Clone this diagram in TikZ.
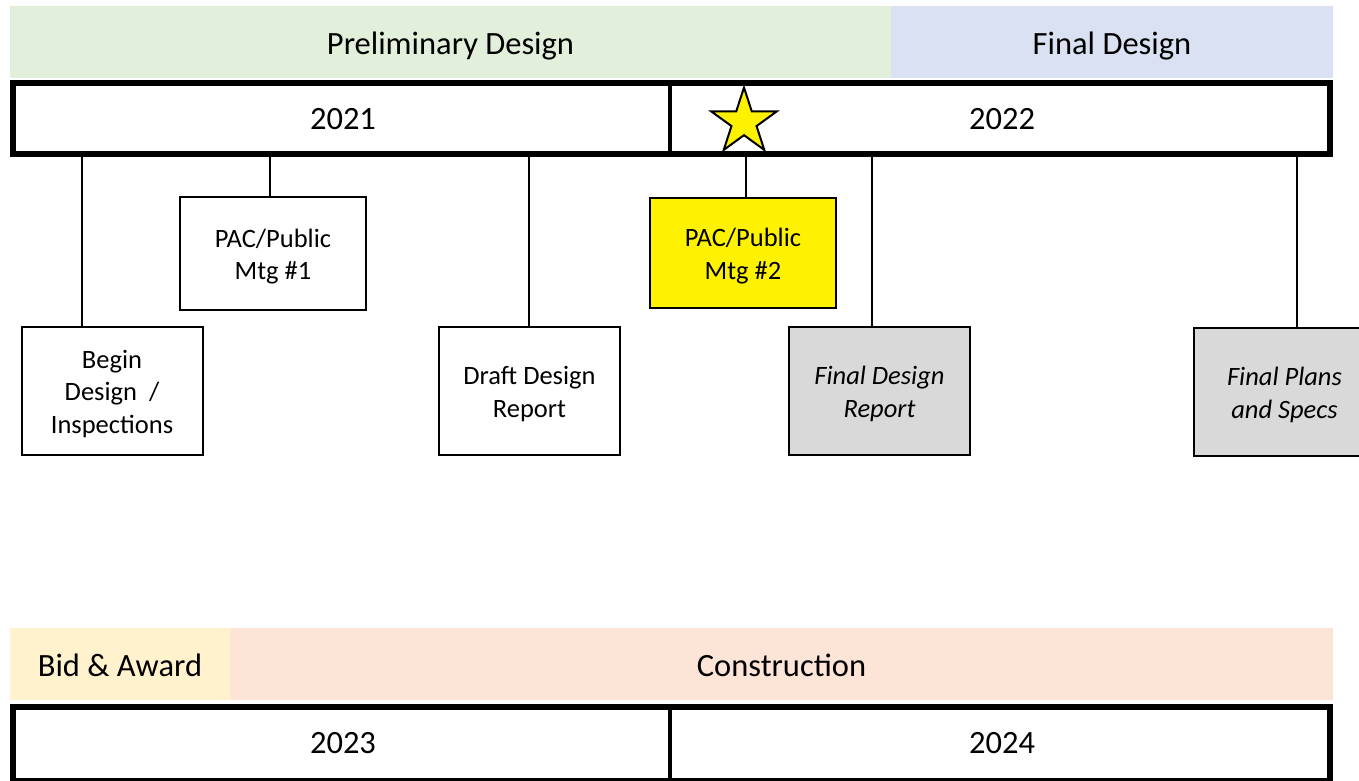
\documentclass[tikz,border=0pt]{standalone}
\usepackage{fontspec}
\setmainfont{Carlito}
\usetikzlibrary{shapes.geometric}
\definecolor{prelim}{HTML}{E2EFDA}
\definecolor{finald}{HTML}{D9E1F2}
\definecolor{bidaw}{HTML}{FFF2CC}
\definecolor{constr}{HTML}{FCE4D6}
\definecolor{repgray}{HTML}{D9D9D9}
\newcommand{\bandfont}{\fontsize{32.5}{39}\selectfont}
\newcommand{\evfont}{\fontsize{26.5}{32.5}\selectfont}
\tikzset{
  band/.style={inner sep=0,minimum height=72pt,text height=24pt,text depth=0pt,font=\bandfont},
  evbox/.style={draw,line width=2pt,align=center,minimum width=181pt,minimum height=128pt,inner sep=0,text height=52pt,text depth=0pt,font=\evfont},
  yr/.style={font=\bandfont},
  tick/.style={line width=1.2pt},
  mtgtick/.style={line width=2.5pt}
}
\begin{document}
\begin{tikzpicture}[x=1pt,y=-1pt]
\useasboundingbox (0,0) rectangle (1359,780);
% phase bands
\node[band,fill=prelim,minimum width=881pt](pd) at (450.5,42){Preliminary Design};
\node[band,fill=finald,minimum width=442pt](fd) at (1112,42){Final Design};
\node[band,fill=bidaw,minimum width=220pt](ba) at (120,664){Bid \& Award};
\node[band,fill=constr,minimum width=1103pt](cs) at (781.5,664){Construction};
% year bars
\draw[line width=6pt](13,83)rectangle(1330,154) (13,707)rectangle(1330,781);
\draw[line width=4pt](670,83)--(670,154) (670,707)--(670,781);
\foreach \n/\x/\y/\t in {y21/343/119/2021,y22/1002/119/2022,y23/343/743/2023,y24/1002/743/2024}
  \node[yr](\n) at (\x,\y){\t};
\node[star,star points=5,star point ratio=2.618,minimum size=69pt,inner sep=0,draw,line width=2pt,fill=yellow](st) at (744,122){};
% milestones
\node[evbox,text height=84pt](bd) at (112,391){Begin\\Design~~/\\Inspections};
\node[evbox,minimum width=186pt,minimum height=113pt](m1) at (273,253.5){PAC/Public\\Mtg \#1};
\node[evbox](dd) at (529.5,391){Draft Design\\Report};
\node[evbox,fill=yellow,minimum width=186pt,minimum height=110pt](m2) at (743,253){PAC/Public\\Mtg \#2};
\node[evbox,fill=repgray,font=\evfont\itshape](fr) at (879.5,391){Final Design\\Report};
\node[evbox,fill=repgray,font=\evfont\itshape](fp) at (1284.5,392){Final Plans\\and Specs};
% ticks from the year bar
\foreach \t/\x/\b in {t1/82/bd,t3/529/dd,t5/872/fr,t6/1297/fp}{
  \coordinate(\t) at (\x,157);
  \draw[tick](\t)--(\b.north-|\t);}
\foreach \t/\x/\b in {t2/270/m1,t4/746/m2}{
  \coordinate(\t) at (\x,157);
  \draw[mtgtick](\t)--(\b.north-|\t);}
\end{tikzpicture}
\end{document}
